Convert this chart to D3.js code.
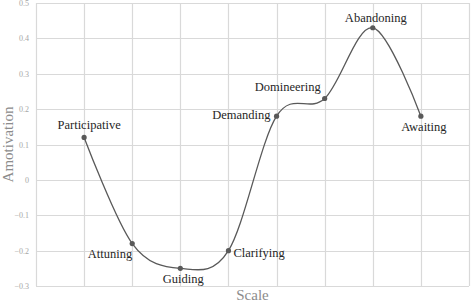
<!DOCTYPE html>
<html>
<head>
<meta charset="utf-8">
<script src="https://cdn.jsdelivr.net/npm/d3@7"></script>
<style>
  html, body { margin: 0; padding: 0; background: #fff; }
  svg { display: block; }
  svg text { font-family: "Liberation Serif", "DejaVu Serif", serif; }
</style>
</head>
<body>
<svg id="chart"></svg>
<script>
// chart data
var categories = ["Participative", "Attuning", "Guiding", "Clarifying",
                  "Demanding", "Domineering", "Abandoning", "Awaiting"];
var amotivation = [0.12, -0.18, -0.25, -0.2, 0.18, 0.23, 0.43, 0.18];
var yTicks = [-0.3, -0.2, -0.1, 0, 0.1, 0.2, 0.3, 0.4, 0.5];

// where each point label sits relative to its marker
var labelPlace = {
    "Participative": { dx: 5,  dy: -8,  anchor: "middle" },
    "Attuning":      { dx: 0,  dy: 14,  anchor: "end" },
    "Guiding":       { dx: 3,  dy: 15,  anchor: "middle" },
    "Clarifying":    { dx: 5,  dy: 6,   anchor: "start" },
    "Demanding":     { dx: -6, dy: 3,   anchor: "end" },
    "Domineering":   { dx: -4, dy: -8,  anchor: "end" },
    "Abandoning":    { dx: 3,  dy: -6,  anchor: "middle" },
    "Awaiting":      { dx: 3,  dy: 15,  anchor: "middle" }
};

var w = 471, h = 302;
var margin = { top: 3, right: 2, bottom: 16, left: 36 };
var serif = "Liberation Serif, DejaVu Serif, serif";

var svg = d3.select("#chart").attr("width", w).attr("height", h);

var x = d3.scalePoint()
    .domain(categories)
    .range([margin.left, w - margin.right])
    .padding(1);

var y = d3.scaleLinear()
    .domain([-0.3, 0.5])
    .range([h - margin.bottom, margin.top]);

var step = x.step();

// horizontal grid
svg.append("g")
    .selectAll("line")
    .data(yTicks)
    .join("line")
    .attr("x1", margin.left)
    .attr("x2", w - margin.right)
    .attr("y1", function (d) { return Math.round(y(d)) + 0.5; })
    .attr("y2", function (d) { return Math.round(y(d)) + 0.5; })
    .attr("stroke", "#d9d9d9")
    .attr("stroke-width", 1.2);

// vertical grid, one line per category plus both edges
var vLines = [x(categories[0]) - step].concat(categories.map(function (c) { return x(c); }));
vLines.push(x(categories[categories.length - 1]) + step);
svg.append("g")
    .selectAll("line")
    .data(vLines)
    .join("line")
    .attr("x1", function (d) { return Math.round(d) + 0.5; })
    .attr("x2", function (d) { return Math.round(d) + 0.5; })
    .attr("y1", margin.top)
    .attr("y2", h - margin.bottom)
    .attr("stroke", "#d9d9d9")
    .attr("stroke-width", 1.2);

// y axis labels
var yAxis = d3.axisLeft(y)
    .tickValues(yTicks)
    .tickSize(0)
    .tickPadding(7)
    .tickFormat(function (d) { return d3.format("")(+d.toFixed(1)); });

svg.append("g")
    .attr("transform", "translate(" + margin.left + ",0)")
    .call(yAxis)
    .attr("font-family", serif)
    .call(function (g) { g.select(".domain").remove(); })
    .selectAll("text")
    .attr("fill", "#a6a6a6")
    .attr("font-family", serif)
    .attr("font-size", 8);

// axis titles
svg.append("text")
    .attr("x", (margin.left + w - margin.right) / 2)
    .attr("y", 300)
    .attr("text-anchor", "middle")
    .attr("fill", "#8c8c8c")
    .attr("font-family", serif)
    .attr("font-size", 15)
    .text("Scale");

svg.append("text")
    .attr("transform", "translate(13," + (margin.top + (h - margin.bottom - margin.top) / 2) + ") rotate(-90)")
    .attr("text-anchor", "middle")
    .attr("fill", "#8c8c8c")
    .attr("font-family", serif)
    .attr("font-size", 15)
    .text("Amotivation");

// smoothed line
var pts = categories.map(function (c, i) { return { name: c, value: amotivation[i] }; });

var line = d3.line()
    .x(function (d) { return x(d.name); })
    .y(function (d) { return y(d.value); })
    .curve(d3.curveCardinal.tension(0));

svg.append("path")
    .datum(pts)
    .attr("d", line)
    .attr("fill", "none")
    .attr("stroke", "#595959")
    .attr("stroke-width", 1.3);

svg.append("g")
    .selectAll("circle")
    .data(pts)
    .join("circle")
    .attr("cx", function (d) { return x(d.name); })
    .attr("cy", function (d) { return y(d.value); })
    .attr("r", 2.6)
    .attr("fill", "#595959");

svg.append("g")
    .selectAll("text")
    .data(pts)
    .join("text")
    .attr("x", function (d) { return x(d.name) + labelPlace[d.name].dx; })
    .attr("y", function (d) { return y(d.value) + labelPlace[d.name].dy; })
    .attr("text-anchor", function (d) { return labelPlace[d.name].anchor; })
    .attr("fill", "#262626")
    .attr("font-family", serif)
    .attr("font-size", 12.5)
    .text(function (d) { return d.name; });
</script>
</body>
</html>
